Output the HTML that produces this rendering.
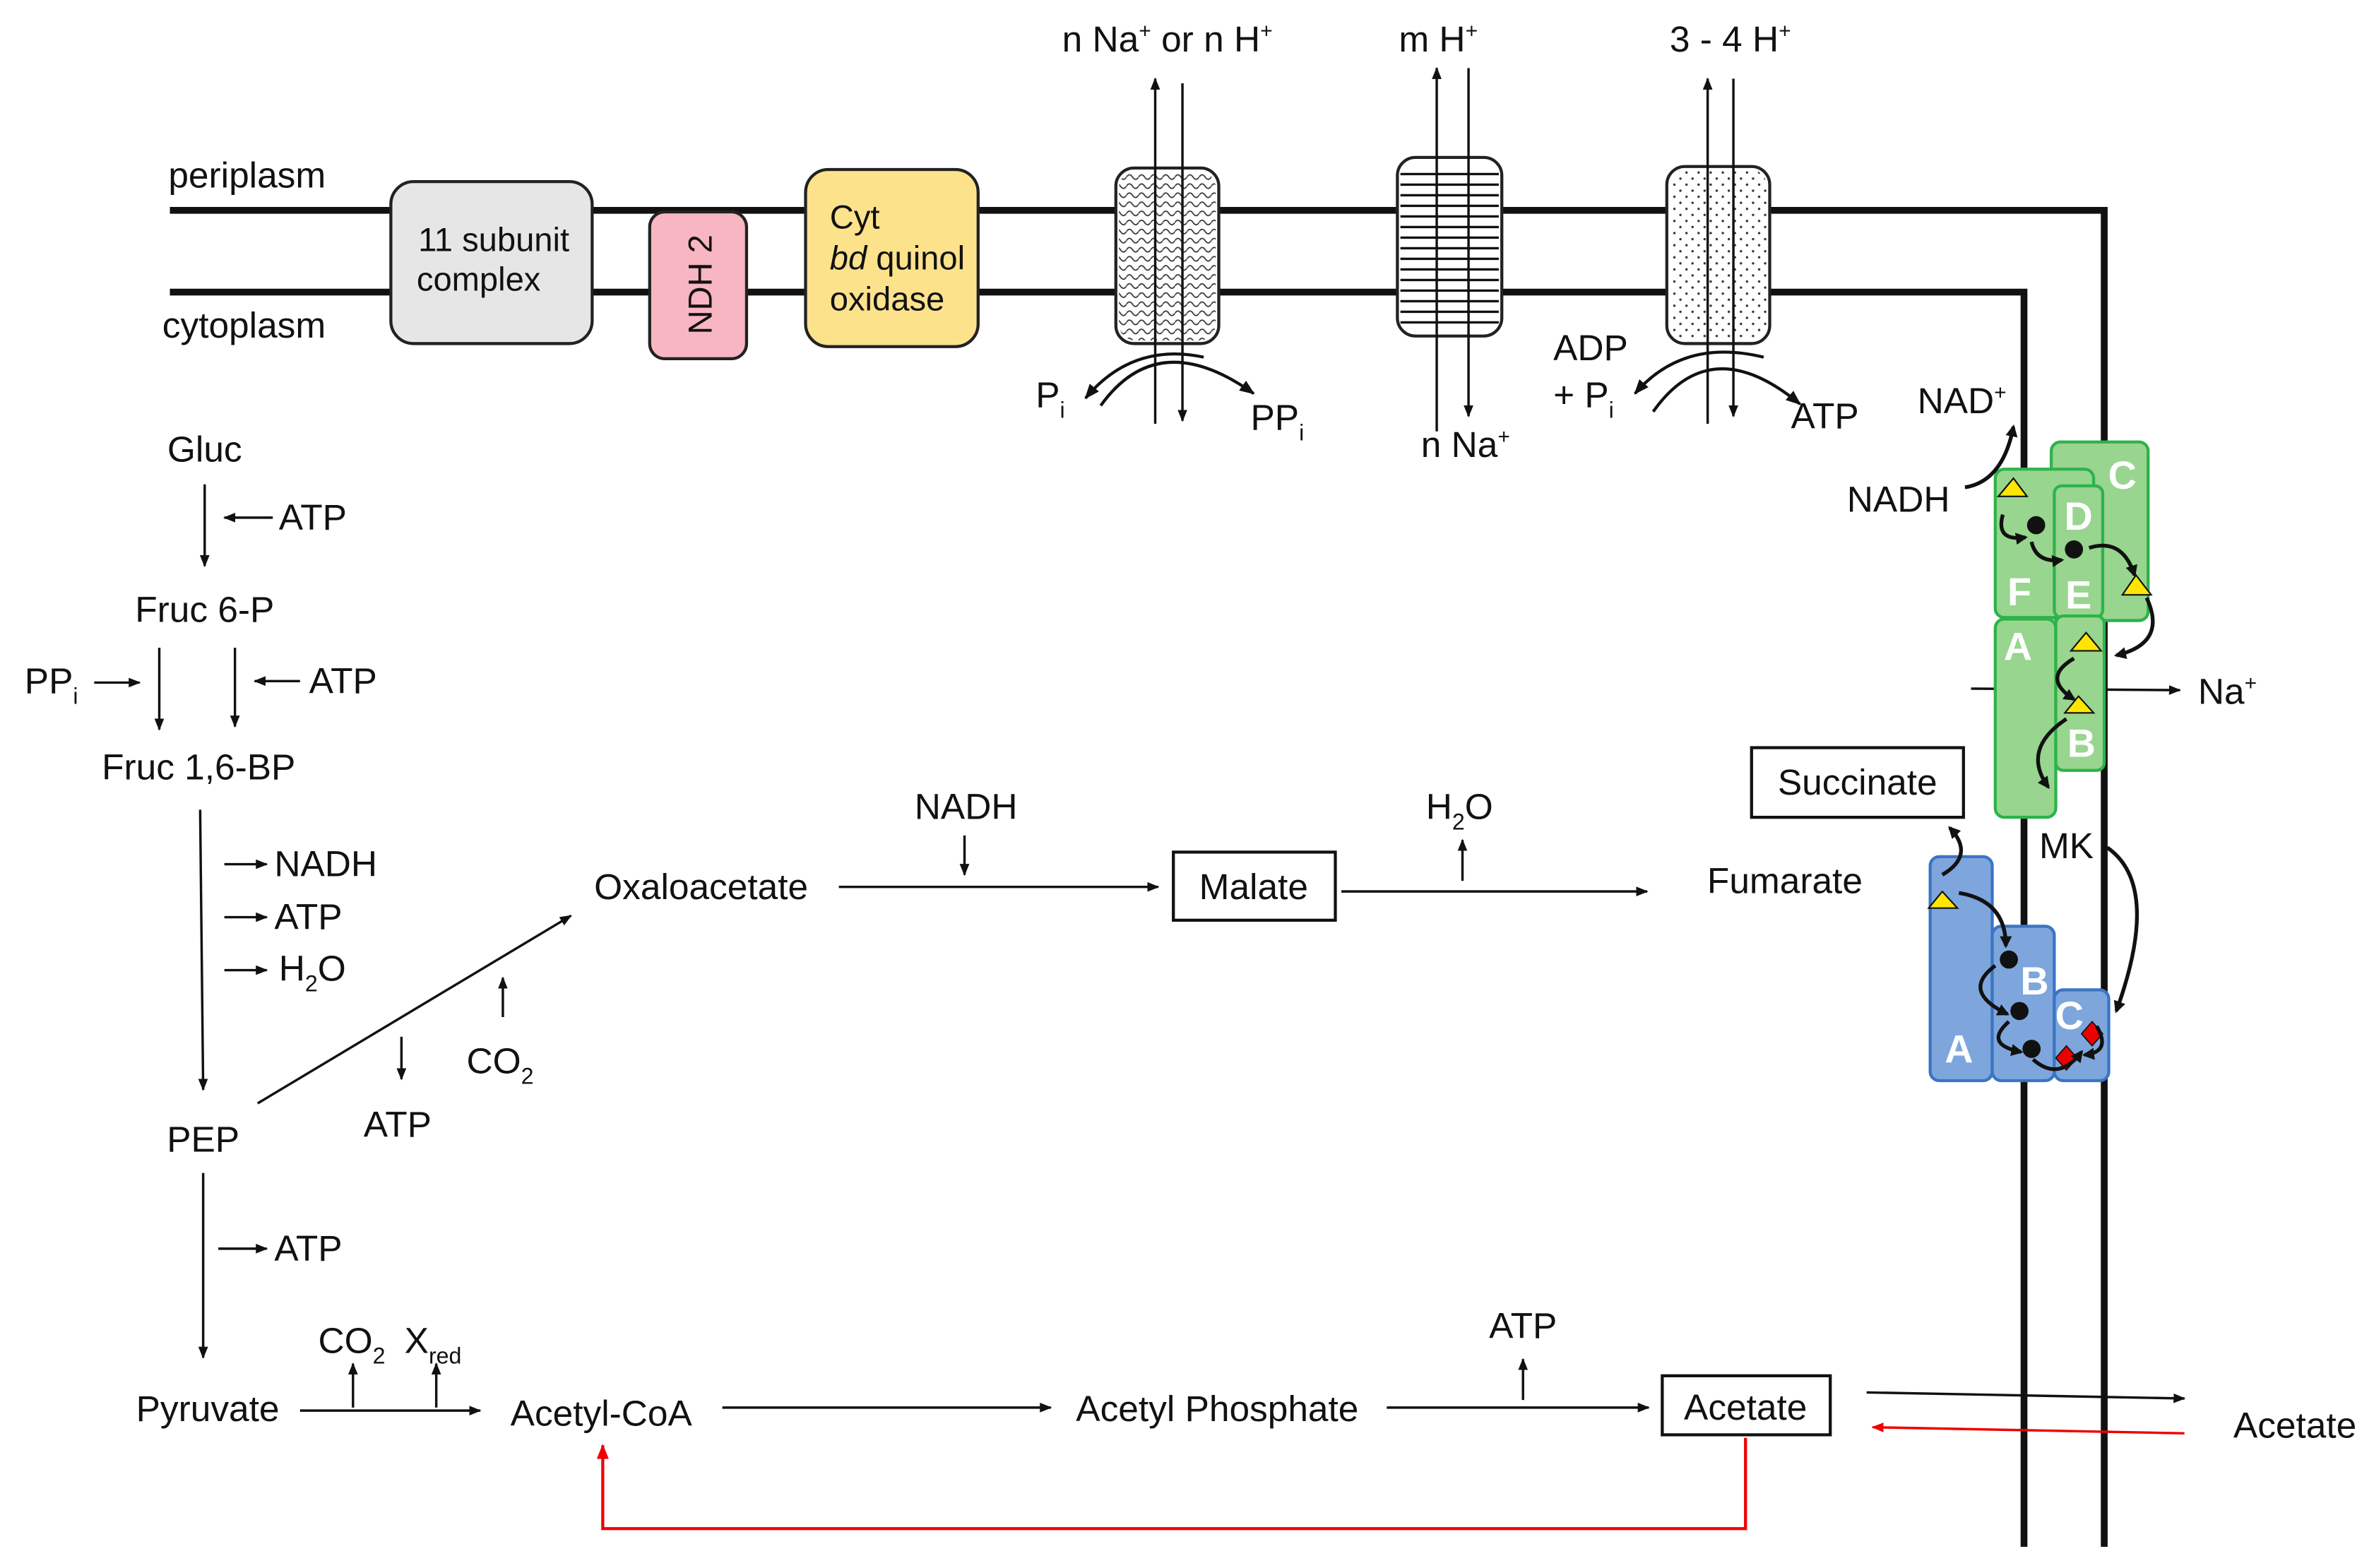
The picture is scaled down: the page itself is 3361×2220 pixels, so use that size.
<!DOCTYPE html>
<html><head><meta charset="utf-8"><style>
html,body{margin:0;padding:0;background:#fff;}
svg{display:block;}
text{font-family:"Liberation Sans",Arial,sans-serif;fill:#111;}
</style></head><body>
<svg width="3361" height="2220" viewBox="0 0 1568 1036" xmlns="http://www.w3.org/2000/svg">
<defs>
<marker id="a" viewBox="0 0 10 10" refX="9" refY="5" markerWidth="5" markerHeight="5" orient="auto-start-reverse"><path d="M0,1 L10,5 L0,9 Z" fill="#111"/></marker>
<marker id="ab" viewBox="0 0 10 10" refX="8" refY="5" markerWidth="3.2" markerHeight="3.2" orient="auto"><path d="M0,0 L10,5 L0,10 Z" fill="#111"/></marker>
<marker id="ar" viewBox="0 0 10 10" refX="9" refY="5" markerWidth="5" markerHeight="5" orient="auto"><path d="M0,1 L10,5 L0,9 Z" fill="#e00"/></marker>
<pattern id="wave" width="8" height="6" patternUnits="userSpaceOnUse"><path d="M0,3 Q2,0 4,3 T8,3" fill="none" stroke="#333" stroke-width="0.8"/></pattern>
<pattern id="dots" width="8" height="8" patternUnits="userSpaceOnUse"><circle cx="2" cy="2" r="0.8" fill="#333"/><circle cx="6" cy="6" r="0.8" fill="#333"/></pattern>
<pattern id="stripe" width="10" height="7" patternUnits="userSpaceOnUse"><line x1="0" y1="3" x2="10" y2="3" stroke="#111" stroke-width="1.6"/></pattern>
</defs>

<path d="M112,139 H1390 V1022" fill="none" stroke="#111" stroke-width="4.5"/>
<path d="M112,193 H1337 V1022" fill="none" stroke="#111" stroke-width="4.5"/>
<text x="111" y="124" font-size="24">periplasm</text>
<text x="107" y="223" font-size="24">cytoplasm</text>

<rect x="258" y="120" width="133" height="107" rx="15" fill="#e6e6e6" stroke="#222" stroke-width="2"/>
<text x="326" y="166" font-size="22" text-anchor="middle">11 subunit</text>
<text x="316" y="192" font-size="22" text-anchor="middle">complex</text>
<rect x="429" y="140" width="64" height="97" rx="10" fill="#f8b6c2" stroke="#222" stroke-width="2"/>
<text transform="translate(470,188) rotate(-90)" font-size="22" text-anchor="middle">NDH 2</text>
<rect x="532" y="112" width="114" height="117" rx="15" fill="#fde28c" stroke="#222" stroke-width="2"/>
<text x="548" y="151" font-size="22">Cyt</text>
<text x="548" y="178" font-size="22"><tspan font-style="italic">bd</tspan> quinol</text>
<text x="548" y="205" font-size="22">oxidase</text>

<rect x="737" y="111" width="68" height="116" rx="12" fill="#fff" stroke="#222" stroke-width="2"/>
<rect x="739" y="113" width="64" height="112" rx="11" fill="url(#wave)"/>
<rect x="923" y="104" width="69" height="118" rx="12" fill="#fff" stroke="#222" stroke-width="2"/>
<rect x="925" y="110" width="65" height="106" fill="url(#stripe)"/>
<rect x="1101" y="110" width="68" height="117" rx="12" fill="#fff" stroke="#222" stroke-width="2"/>
<rect x="1103" y="112" width="64" height="113" rx="11" fill="url(#dots)"/>

<g stroke="#111" stroke-width="1.6" fill="none">
<line x1="763" y1="280" x2="763" y2="52" marker-end="url(#a)"/>
<line x1="781" y1="55" x2="781" y2="278" marker-end="url(#a)"/>
<line x1="949" y1="285" x2="949" y2="45" marker-end="url(#a)"/>
<line x1="970" y1="45" x2="970" y2="275" marker-end="url(#a)"/>
<line x1="1128" y1="280" x2="1128" y2="52" marker-end="url(#a)"/>
<line x1="1145" y1="52" x2="1145" y2="275" marker-end="url(#a)"/>
<path d="M727,268 Q765,215 828,260" stroke-width="2" marker-end="url(#a)"/>
<path d="M795,236 Q748,226 717,263" stroke-width="2" marker-end="url(#a)"/>
<path d="M1092,272 Q1130,218 1189,267" stroke-width="2" marker-end="url(#a)"/>
<path d="M1165,236 Q1112,223 1080,260" stroke-width="2" marker-end="url(#a)"/>
</g>
<text x="771" y="34" font-size="24" text-anchor="middle">n Na<tspan dy="-9" font-size="14">+</tspan><tspan dy="9"> or n H</tspan><tspan dy="-9" font-size="14">+</tspan></text>
<text x="950" y="34" font-size="24" text-anchor="middle">m H<tspan dy="-9" font-size="14">+</tspan></text>
<text x="1143" y="34" font-size="24" text-anchor="middle">3 - 4 H<tspan dy="-9" font-size="14">+</tspan></text>
<text x="968" y="302" font-size="24" text-anchor="middle">n Na<tspan dy="-9" font-size="14">+</tspan></text>
<text x="684" y="269" font-size="24">P<tspan dy="7" font-size="15">i</tspan></text>
<text x="826" y="284" font-size="24">PP<tspan dy="7" font-size="15">i</tspan></text>
<text x="1026" y="238" font-size="24">ADP</text>
<text x="1026" y="269" font-size="24">+ P<tspan dy="7" font-size="15">i</tspan></text>
<text x="1183" y="283" font-size="24">ATP</text>

<g font-size="24">
<text x="135" y="305" text-anchor="middle">Gluc</text>
<text x="135" y="411" text-anchor="middle">Fruc 6-P</text>
<text x="131" y="515" text-anchor="middle">Fruc 1,6-BP</text>
<text x="134" y="761" text-anchor="middle">PEP</text>
<text x="137" y="939" text-anchor="middle">Pyruvate</text>
<text x="397" y="942" text-anchor="middle">Acetyl-CoA</text>
<text x="804" y="939" text-anchor="middle">Acetyl Phosphate</text>
<text x="463" y="594" text-anchor="middle">Oxaloacetate</text>
<text x="1179" y="590" text-anchor="middle">Fumarate</text>
<text x="1516" y="950" text-anchor="middle">Acetate</text>
<text x="184" y="350">ATP</text>
<text x="16" y="458">PP<tspan dy="7" font-size="15">i</tspan></text>
<text x="204" y="458">ATP</text>
<text x="181" y="579">NADH</text>
<text x="181" y="614">ATP</text>
<text x="184" y="648">H<tspan dy="7" font-size="15">2</tspan><tspan dy="-7">O</tspan></text>
<text x="240" y="751">ATP</text>
<text x="308" y="709">CO<tspan dy="7" font-size="15">2</tspan></text>
<text x="181" y="833">ATP</text>
<text x="210" y="894">CO<tspan dy="7" font-size="15">2</tspan></text>
<text x="267" y="894">X<tspan dy="7" font-size="15">red</tspan></text>
<text x="638" y="541" text-anchor="middle">NADH</text>
<text x="964" y="541" text-anchor="middle">H<tspan dy="7" font-size="15">2</tspan><tspan dy="-7">O</tspan></text>
<text x="1006" y="884" text-anchor="middle">ATP</text>
<text x="1296" y="273" text-anchor="middle">NAD<tspan dy="-9" font-size="14">+</tspan></text>
<text x="1254" y="338" text-anchor="middle">NADH</text>
<text x="1365" y="567" text-anchor="middle">MK</text>
<text x="1452" y="465">Na<tspan dy="-9" font-size="14">+</tspan></text>
</g>
<rect x="1157" y="494" width="140" height="46" fill="#fff" stroke="#111" stroke-width="2"/>
<text x="1227" y="525" font-size="24" text-anchor="middle">Succinate</text>
<rect x="775" y="563" width="107" height="45" fill="#fff" stroke="#111" stroke-width="2"/>
<text x="828" y="594" font-size="24" text-anchor="middle">Malate</text>
<rect x="1098" y="909" width="111" height="39" fill="#fff" stroke="#111" stroke-width="2"/>
<text x="1153" y="938" font-size="24" text-anchor="middle">Acetate</text>

<g stroke="#111" stroke-width="1.6" fill="none" marker-end="url(#a)">
<line x1="135" y1="320" x2="135" y2="374"/>
<line x1="180" y1="342" x2="148" y2="342"/>
<line x1="105" y1="428" x2="105" y2="482"/>
<line x1="155" y1="428" x2="155" y2="480"/>
<line x1="62" y1="451" x2="92" y2="451"/>
<line x1="198" y1="450" x2="168" y2="450"/>
<line x1="132" y1="535" x2="134" y2="720"/>
<line x1="148" y1="571" x2="176" y2="571"/>
<line x1="148" y1="606" x2="176" y2="606"/>
<line x1="148" y1="641" x2="176" y2="641"/>
<line x1="170" y1="729" x2="377" y2="605"/>
<line x1="265" y1="685" x2="265" y2="713"/>
<line x1="332" y1="672" x2="332" y2="646"/>
<line x1="134" y1="775" x2="134" y2="897"/>
<line x1="144" y1="825" x2="176" y2="825"/>
<line x1="198" y1="932" x2="317" y2="932"/>
<line x1="233" y1="930" x2="233" y2="901"/>
<line x1="288" y1="930" x2="288" y2="901"/>
<line x1="477" y1="930" x2="694" y2="930"/>
<line x1="916" y1="930" x2="1089" y2="930"/>
<line x1="1006" y1="925" x2="1006" y2="898"/>
<line x1="554" y1="586" x2="765" y2="586"/>
<line x1="637" y1="552" x2="637" y2="578"/>
<line x1="886" y1="589" x2="1088" y2="589"/>
<line x1="966" y1="582" x2="966" y2="555"/>
<line x1="1233" y1="920" x2="1443" y2="924"/>
<line x1="1302" y1="455" x2="1440" y2="456"/>
</g>
<line x1="1443" y1="947" x2="1237" y2="943" stroke="#e00" stroke-width="1.6" marker-end="url(#ar)"/>
<path d="M1153,950 V1010 H398 V955" fill="none" stroke="#e00" stroke-width="2" marker-end="url(#ar)"/>

<g fill="#98d58f" stroke="#2db34a" stroke-width="2">
<rect x="1355" y="292" width="64" height="118" rx="6"/>
<rect x="1318" y="310" width="65" height="98" rx="6"/>
<rect x="1357" y="321" width="32" height="87" rx="5"/>
<rect x="1318" y="409" width="40" height="131" rx="6"/>
<rect x="1358" y="407" width="32" height="102" rx="5"/>
</g>
<g font-size="26" font-weight="bold" text-anchor="middle">
<text x="1402" y="323" style="fill:#fff">C</text>
<text x="1373" y="350" style="fill:#fff">D</text>
<text x="1334" y="400" style="fill:#fff">F</text>
<text x="1373" y="402" style="fill:#fff">E</text>
<text x="1333" y="436" style="fill:#fff">A</text>
<text x="1375" y="500" style="fill:#fff">B</text>
</g>
<g fill="#7ea6dd" stroke="#3a75c4" stroke-width="2">
<rect x="1275" y="566" width="41" height="148" rx="6"/>
<rect x="1316" y="612" width="41" height="102" rx="6"/>
<rect x="1357" y="654" width="36" height="60" rx="6"/>
</g>
<text x="1294" y="702" font-size="26" font-weight="bold" text-anchor="middle" style="fill:#fff">A</text>
<text x="1344" y="657" font-size="26" font-weight="bold" text-anchor="middle" style="fill:#fff">B</text>
<text x="1367" y="680" font-size="26" font-weight="bold" text-anchor="middle" style="fill:#fff">C</text>

<g fill="#ffe600" stroke="#111" stroke-width="1">
<polygon points="1320,328 1330,316 1339,328"/>
<polygon points="1402,393 1411,380 1421,393"/>
<polygon points="1368,430 1378,418 1388,430"/>
<polygon points="1364,471 1373,460 1383,471"/>
<polygon points="1274,600 1283,589 1293,600"/>
</g>
<g fill="#111">
<circle cx="1345" cy="347" r="6"/><circle cx="1370" cy="363" r="6"/>
<circle cx="1327" cy="634" r="6"/><circle cx="1334" cy="668" r="6"/><circle cx="1342" cy="693" r="6"/>
</g>
<g fill="#e00" stroke="#111" stroke-width="0.8">
<polygon points="1382,675 1389,683 1382,691 1375,683"/>
<polygon points="1365,691 1372,699 1365,707 1358,699"/>
</g>
<g stroke="#111" stroke-width="2.5" fill="none" marker-end="url(#ab)">
<path d="M1298,322 Q1323,318 1330,282"/>
<path d="M1323,340 Q1318,358 1338,355"/>
<path d="M1342,358 Q1345,372 1362,370"/>
<path d="M1380,362 Q1402,355 1410,380"/>
<path d="M1418,395 Q1432,425 1398,433"/>
<path d="M1370,435 Q1348,448 1370,462"/>
<path d="M1365,475 Q1335,495 1353,520"/>
<path d="M1283,578 Q1305,565 1288,547"/>
<path d="M1294,590 Q1325,595 1325,625"/>
<path d="M1318,638 Q1295,655 1326,670"/>
<path d="M1327,675 Q1310,690 1335,695"/>
<path d="M1343,700 Q1360,715 1375,695"/>
<path d="M1385,678 Q1395,695 1377,697"/>
<path d="M1392,560 Q1428,585 1398,668"/>
</g>
</svg>
</body></html>
